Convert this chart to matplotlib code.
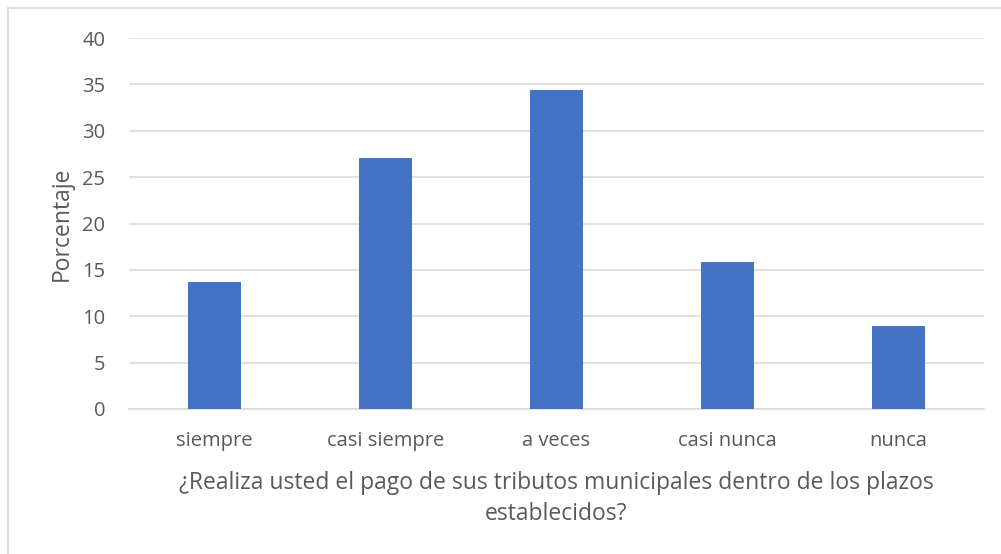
import matplotlib.pyplot as plt
from matplotlib.lines import Line2D

categories = ['siempre', 'casi siempre', 'a veces', 'casi nunca', 'nunca']
values = [13.7, 27.1, 34.4, 15.9, 8.9]
yticks = [0, 5, 10, 15, 20, 25, 30, 35, 40]

plt.rcParams['font.family'] = ['Open Sans', 'DejaVu Sans']

W, H = 1001, 554
fig = plt.figure(figsize=(W / 100, H / 100), dpi=100)
ax = fig.add_axes([129 / W, 1 - 409 / H, (984 - 129) / W, (409 - 38) / H])

x = range(len(categories))
ax.bar(x, values, width=0.31, color='#4472C4', zorder=3)
ax.set_xlim(-0.5, len(categories) - 0.5)
ax.set_ylim(0, 40)
ax.set_yticks(yticks)
ax.set_xticks(list(x))
ax.set_xticklabels(categories)
ax.yaxis.grid(True, color='#D9D9D9', linewidth=1.1, zorder=0)
for s in ['top', 'right', 'left']:
    ax.spines[s].set_visible(False)
ax.spines['bottom'].set_color('#D9D9D9')
ax.spines['bottom'].set_linewidth(1.1)
ax.tick_params(axis='both', length=0, labelsize=14.5, labelcolor='#595959')
ax.tick_params(axis='x', pad=16)
ax.tick_params(axis='y', pad=17)
ax.set_ylabel('Porcentaje', fontsize=16.5, color='#595959', labelpad=6)
ax.set_xlabel('¿Realiza usted el pago de sus tributos municipales dentro de los plazos\nestablecidos?',
              fontsize=16.5, color='#595959', labelpad=14, linespacing=1.4)

# light frame around the chart area
fig.add_artist(Line2D([8 / W, 8 / W], [0, 1 - 8 / H], color='#D9D9D9', lw=1.2))
fig.add_artist(Line2D([8 / W, 1], [1 - 8 / H, 1 - 8 / H], color='#D9D9D9', lw=1.2))

fig.savefig('out.png', dpi=100)
